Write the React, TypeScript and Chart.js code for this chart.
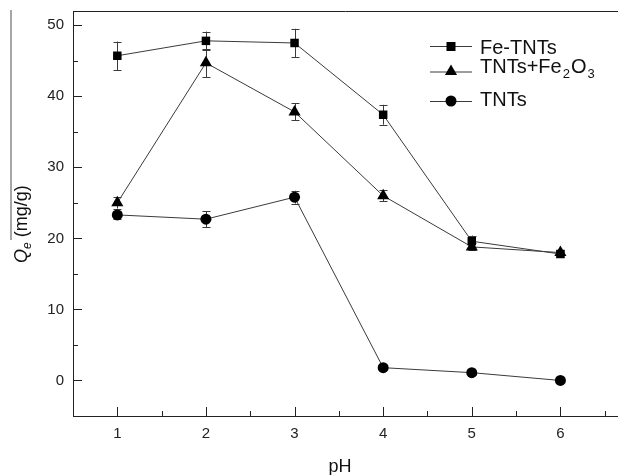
import React, { useEffect, useRef } from "react";
import { Chart, registerables } from "chart.js";

Chart.register(...registerables);

const phValues = [1, 2, 3, 4, 5, 6];
const feTnts = [45.7, 47.8, 47.5, 37.4, 19.6, 17.8];
const feTntsErr = [2.0, 1.3, 2.0, 1.4, 0.8, 0.4];
const tntsFe2o3 = [25.0, 44.7, 37.8, 26.0, 18.8, 18.0];
const tntsFe2o3Err = [0.8, 2.0, 1.2, 0.8, 0.5, 0.4];
const tnts = [23.3, 22.7, 25.8, 1.8, 1.1, 0.0];
const tntsErr = [0.6, 1.1, 0.9, 0.3, 0.3, 0.2];
const yTickValues = [0, 10, 20, 30, 40, 50];
const yMinorValues = [-5, 5, 15, 25, 35, 45];
const xTickValues = [1, 2, 3, 4, 5, 6];
const xMinorValues = [0.5, 1.5, 2.5, 3.5, 4.5, 5.5, 6.5];

const FONT = '"Liberation Sans", Arial, sans-serif';
const AXIS = "#222";
const LINE = "#3a3a3a";

const errors = [feTntsErr, tntsFe2o3Err, tntsErr];

const errorBarPlugin = {
  id: "errorBars",
  beforeDatasetsDraw(chart: any) {
    const ctx = chart.ctx;
    const xs = chart.scales.x;
    const ys = chart.scales.y;
    ctx.save();
    ctx.strokeStyle = LINE;
    ctx.lineWidth = 1;
    chart.data.datasets.forEach((ds: any, i: number) => {
      ds.data.forEach((p: any, j: number) => {
        const e = errors[i][j];
        const x = Math.round(xs.getPixelForValue(p.x)) + 0.5;
        const y1 = ys.getPixelForValue(p.y + e);
        const y2 = ys.getPixelForValue(p.y - e);
        ctx.beginPath();
        ctx.moveTo(x, y1);
        ctx.lineTo(x, y2);
        ctx.moveTo(x - 4, Math.round(y1) + 0.5);
        ctx.lineTo(x + 4, Math.round(y1) + 0.5);
        ctx.moveTo(x - 4, Math.round(y2) + 0.5);
        ctx.lineTo(x + 4, Math.round(y2) + 0.5);
        ctx.stroke();
      });
    });
    ctx.restore();
  },
};

const framePlugin = {
  id: "frame",
  afterDraw(chart: any) {
    const ctx = chart.ctx;
    const { left, top, bottom } = chart.chartArea;
    const xs = chart.scales.x;
    const ys = chart.scales.y;
    ctx.save();
    ctx.strokeStyle = AXIS;
    ctx.lineWidth = 1;
    ctx.beginPath();
    ctx.moveTo(left, top + 0.5);
    ctx.lineTo(chart.width, top + 0.5);
    yTickValues.forEach((v) => {
      const y = Math.round(ys.getPixelForValue(v)) + 0.5;
      ctx.moveTo(left, y);
      ctx.lineTo(left + 9, y);
    });
    yMinorValues.forEach((v) => {
      const y = Math.round(ys.getPixelForValue(v)) + 0.5;
      ctx.moveTo(left, y);
      ctx.lineTo(left + 5, y);
    });
    xTickValues.forEach((v) => {
      const x = Math.round(xs.getPixelForValue(v)) + 0.5;
      ctx.moveTo(x, bottom);
      ctx.lineTo(x, bottom - 9);
    });
    xMinorValues.forEach((v) => {
      const x = Math.round(xs.getPixelForValue(v)) + 0.5;
      ctx.moveTo(x, bottom);
      ctx.lineTo(x, bottom - 5);
    });
    ctx.stroke();

    // y title with overline artifact
    ctx.strokeStyle = "#888";
    ctx.lineWidth = 1.5;
    ctx.beginPath();
    ctx.moveTo(11, 10);
    ctx.lineTo(11, 240);
    ctx.stroke();

    ctx.fillStyle = "#111";
    ctx.save();
    ctx.translate(27, 263);
    ctx.rotate(-Math.PI / 2);
    ctx.textBaseline = "alphabetic";
    ctx.textAlign = "left";
    let cx = 0;
    ctx.font = `italic 18px ${FONT}`;
    ctx.fillText("Q", cx, 0);
    cx += ctx.measureText("Q").width;
    ctx.font = `italic 12px ${FONT}`;
    ctx.fillText("e", cx, 4);
    cx += ctx.measureText("e").width;
    ctx.font = `18px ${FONT}`;
    ctx.fillText(" (mg/g)", cx, 0);
    ctx.restore();

    // x title
    ctx.font = `18px ${FONT}`;
    ctx.textAlign = "center";
    ctx.textBaseline = "middle";
    ctx.fillText("pH", 340, 467);

    // legend
    const rows = [
      { y: 46, base: 54, shape: "rect", parts: [["Fe-TNTs", 0]] },
      {
        y: 71.5,
        base: 73,
        shape: "tri",
        parts: [["TNTs+Fe", 0], ["2", 1], ["O", 0], ["3", 1]],
      },
      { y: 101, base: 106, shape: "circ", parts: [["TNTs", 0]] },
    ];
    rows.forEach((r: any) => {
      ctx.strokeStyle = LINE;
      ctx.lineWidth = 1;
      ctx.beginPath();
      ctx.moveTo(430, r.y + 0.5);
      ctx.lineTo(472, r.y + 0.5);
      ctx.stroke();
      ctx.fillStyle = "#000";
      const mx = 451;
      ctx.beginPath();
      if (r.shape === "rect") {
        ctx.rect(mx - 4.5, r.y - 4, 9, 9);
      } else if (r.shape === "tri") {
        const rr = 7;
        ctx.moveTo(mx, r.y - rr);
        ctx.lineTo(mx + rr * 0.866, r.y + rr * 0.5);
        ctx.lineTo(mx - rr * 0.866, r.y + rr * 0.5);
        ctx.closePath();
      } else {
        ctx.arc(mx, r.y, 5.5, 0, Math.PI * 2);
      }
      ctx.fill();
      ctx.fillStyle = "#111";
      ctx.textAlign = "left";
      ctx.textBaseline = "alphabetic";
      let tx = 480;
      r.parts.forEach((p: any) => {
        if (p[1]) {
          ctx.font = `13px ${FONT}`;
          ctx.fillText(p[0], tx + 1, r.base + 5);
          tx += ctx.measureText(p[0]).width + 2;
        } else {
          ctx.font = `20px ${FONT}`;
          ctx.fillText(p[0], tx, r.base);
          tx += ctx.measureText(p[0]).width;
        }
      });
    });
    ctx.restore();
  },
};

export default function App() {
  const ref = useRef<HTMLCanvasElement | null>(null);
  useEffect(() => {
    if (!ref.current) return;
    const mk = (vals: number[]) => phValues.map((x, i) => ({ x, y: vals[i] }));
    const ptCommon = {
      borderColor: LINE,
      borderWidth: 1,
      pointBackgroundColor: "#000",
      pointBorderColor: "#000",
      pointBorderWidth: 0,
      tension: 0,
    };
    const chart = new Chart(ref.current, {
      type: "line",
      data: {
        datasets: [
          { label: "Fe-TNTs", data: mk(feTnts), pointStyle: "rect", pointRadius: 6, ...ptCommon },
          { label: "TNTs+Fe2O3", data: mk(tntsFe2o3), pointStyle: "triangle", pointRadius: 7, ...ptCommon },
          { label: "TNTs", data: mk(tnts), pointStyle: "circle", pointRadius: 5.5, ...ptCommon },
        ],
      },
      options: {
        animation: false,
        responsive: false,
        maintainAspectRatio: false,
        layout: { autoPadding: false, padding: { top: 11, right: 0, left: 0, bottom: 0 } },
        plugins: { legend: { display: false }, tooltip: { enabled: false } },
        scales: {
          x: {
            type: "linear",
            min: 0.5,
            max: 6.65,
            afterBuildTicks: (s: any) => {
              s.ticks = xTickValues.map((v) => ({ value: v }));
            },
            afterFit: (s: any) => {
              s.height = 59;
              s.paddingLeft = 0;
              s.paddingRight = 0;
              s.paddingTop = 0;
              s.paddingBottom = 0;
            },
            grid: { display: false, drawTicks: false },
            border: { display: true, color: AXIS, width: 1 },
            ticks: {
              padding: 9,
              color: "#222",
              font: { family: FONT, size: 15 },
              maxRotation: 0,
            },
          },
          y: {
            type: "linear",
            min: -5,
            max: 52,
            afterBuildTicks: (s: any) => {
              s.ticks = yTickValues.map((v) => ({ value: v }));
            },
            afterFit: (s: any) => {
              s.width = 73;
              s.paddingLeft = 0;
              s.paddingRight = 0;
              s.paddingTop = 0;
              s.paddingBottom = 0;
            },
            grid: { display: false, drawTicks: false },
            border: { display: true, color: AXIS, width: 1 },
            ticks: {
              padding: 9,
              color: "#222",
              font: { family: FONT, size: 15 },
            },
          },
        },
      },
      plugins: [errorBarPlugin, framePlugin],
    });
    return () => chart.destroy();
  }, []);
  return (
    <div style={{ position: "absolute", left: 0, top: 0, width: 618, height: 475, background: "#fff" }}>
      <canvas ref={ref} width={618} height={475} style={{ display: "block" }} />
    </div>
  );
}
